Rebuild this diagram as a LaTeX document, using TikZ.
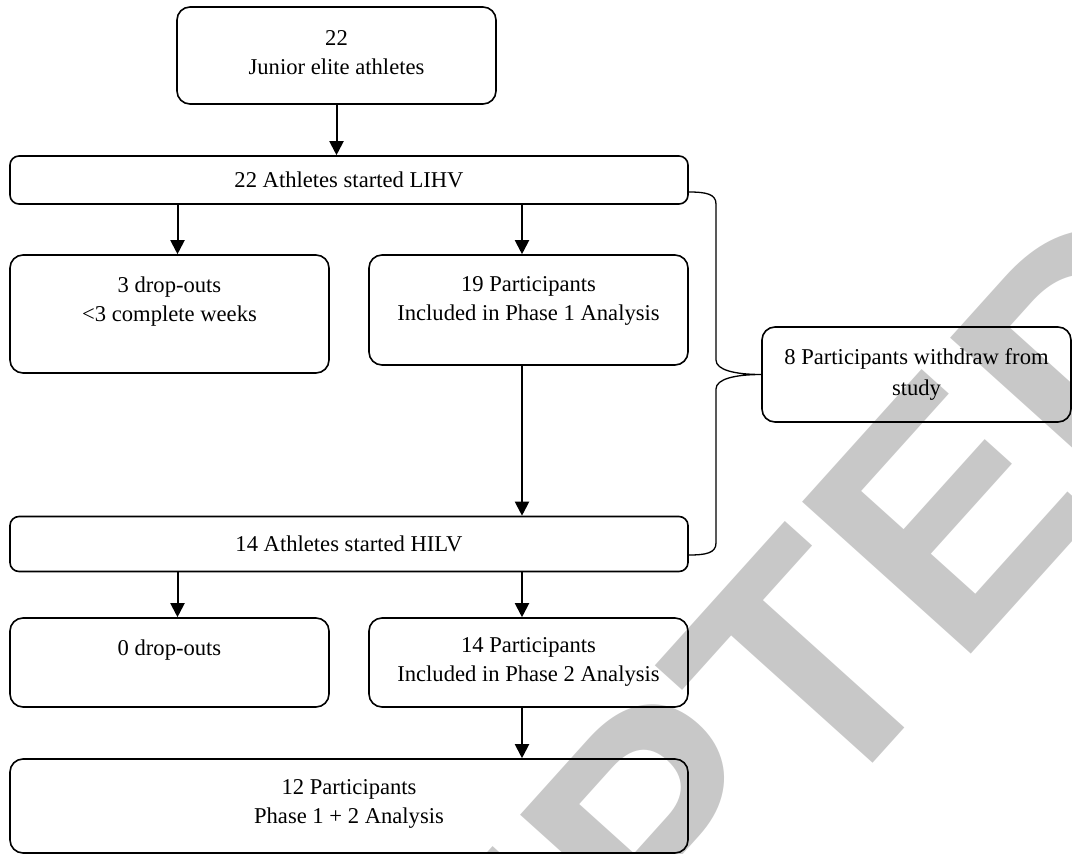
\documentclass[tikz,border=0pt]{standalone}
\usepackage{fontspec}
\setmainfont{Liberation Serif}
\newfontfamily\wmfont{Liberation Sans}
\usepackage{tikz}
\usetikzlibrary{arrows.meta}
\usetikzlibrary{positioning}
\usetikzlibrary{calc}

\definecolor{wmgrey}{RGB}{200,200,200}

\begin{document}
\begin{tikzpicture}[x=1pt, y=-1pt, font=\fontsize{22.6}{29}\selectfont,
    box/.style={draw, line width=1.6pt, rounded corners=13pt, minimum width=319pt, inner sep=0pt},
    bar/.style={draw, line width=1.6pt, rounded corners=9pt, minimum width=678pt, inner sep=0pt},
    txt/.style={anchor=north, yshift=-22pt, align=center, inner sep=0pt},
    arr/.style={line width=2pt, -{Triangle[width=14pt, length=14pt]}},
    brace/.style={line width=1.3pt}]
          \useasboundingbox (0,0) rectangle (1072,854);

          \begin{scope}
            \clip (0,0) rectangle (1072,854);
            \node[rotate=48, text=wmgrey, inner sep=0pt, font=\wmfont\bfseries\fontsize{330}{330}\selectfont] (wm) at (572,928) {ACCEPTED};
          \end{scope}

          \node[box, minimum height=97pt, label={[txt, yshift=-2pt]north:{22\\Junior elite athletes}}] (start) at (336.5,55.5) {};

          \node[bar, minimum height=48pt] (lihv) at (349,180) {22 Athletes started LIHV};

          \node[box, minimum height=118pt, label={[txt]north:{3 drop-outs\\<3 complete weeks}}] (drop1) at (169.5,314) {};

          \node[box, minimum height=110pt, label={[txt]north:{19 Participants\\Included in Phase 1 Analysis}}] (incl1) at (528.5,310) {};

          \node[box, minimum width=309pt, minimum height=95pt, align=center] (withdraw) at (916.5,374.5) {8 Participants withdraw from\\[2pt]study};

          \node[bar, minimum height=55pt] (hilv) at (349,544) {14 Athletes started HILV};

          \node[box, minimum height=89pt, label={[txt]north:{0 drop-outs}}] (drop2) at (169.5,662.5) {};

          \node[box, minimum height=89pt, label={[txt, yshift=2pt]north:{14 Participants\\Included in Phase 2 Analysis}}] (incl2) at (528.5,662.5) {};

          \node[box, minimum width=678pt, minimum height=94pt, label={[txt, yshift=1pt]north:{12 Participants\\Phase 1 + 2 Analysis}}] (both) at (349,806) {};

          \draw[arr] (start.south) -- (start.south |- lihv.north);
          \draw[arr] ([xshift=8pt]drop1.north |- lihv.south) -- ([xshift=8pt]drop1.north);
          \draw[arr] ([xshift=-6.5pt]incl1.north |- lihv.south) -- ([xshift=-6.5pt]incl1.north);
          \draw[arr] ([xshift=-6.5pt]incl1.south) -- ([xshift=-6.5pt]incl1.south |- hilv.north);
          \draw[arr] ([xshift=8pt]drop2.north |- hilv.south) -- ([xshift=8pt]drop2.north);
          \draw[arr] ([xshift=-6.5pt]incl2.north |- hilv.south) -- ([xshift=-6.5pt]incl2.north);
          \draw[arr] ([xshift=-6.5pt]incl2.south) -- ([xshift=-6.5pt]incl2.south |- both.north);

          \coordinate (bt) at (lihv.east |- 0,192);
          \coordinate (bb) at (hilv.east |- 0,555);
          \draw[brace] (bt) .. controls (706,192) and (716,194) .. (716,204) -- (716,360)
            .. controls (716,370) and (735,374.5) .. (withdraw.west)
            .. controls (735,374.5) and (716,379) .. (716,389) -- (716,543)
            .. controls (716,553) and (706,555) .. (bb);
        \end{tikzpicture}
\end{document}
